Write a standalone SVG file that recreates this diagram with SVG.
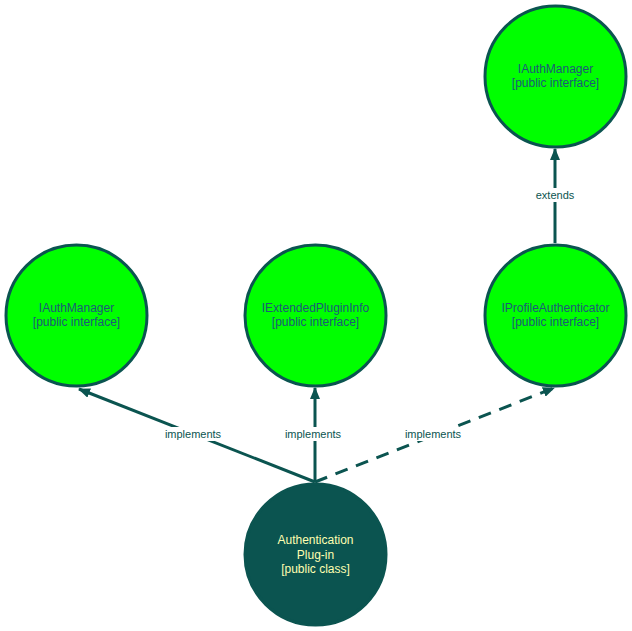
<svg xmlns="http://www.w3.org/2000/svg" width="632" height="631" viewBox="0 0 632 631">
<style>
.iface{fill:#00ff00;stroke:#0b5450;stroke-width:3}
.cls{fill:#0b5450;stroke:#0b5450;stroke-width:3}
.t{font-family:"Liberation Sans",Arial,sans-serif;font-size:12px;text-anchor:middle;fill:#1d5a78}
.tc{font-family:"Liberation Sans",Arial,sans-serif;font-size:12px;text-anchor:middle;fill:#ffffb0}
.edge{stroke:#0b5450;stroke-width:3;fill:none}
.lbl{font-family:"Liberation Sans",Arial,sans-serif;font-size:11px;text-anchor:middle;fill:#0b5450}
.bg{fill:#ffffff}
</style>
<defs>
<marker id="arr" markerUnits="userSpaceOnUse" markerWidth="12" markerHeight="10" viewBox="0 0 12 10" refX="11" refY="5" orient="auto">
<path d="M0,0 L12,5 L0,10 z" fill="#0b5450"/>
</marker>
</defs>
<rect width="632" height="631" fill="#ffffff"/>
<g id="connectors">
<line class="edge" x1="315" y1="482" x2="79" y2="389" marker-end="url(#arr)"/>
<line class="edge" x1="315" y1="482" x2="315" y2="388" marker-end="url(#arr)"/>
<line class="edge" x1="315" y1="482" x2="554" y2="388" stroke-dasharray="13,9" marker-end="url(#arr)"/>
<line class="edge" x1="555" y1="243" x2="555" y2="149" marker-end="url(#arr)"/>
<rect class="bg" x="165" y="427" width="56" height="14"/>
<text class="lbl" x="193" y="438">implements</text>
<rect class="bg" x="285" y="427" width="56" height="14"/>
<text class="lbl" x="313" y="438">implements</text>
<rect class="bg" x="404" y="427" width="58" height="14"/>
<text class="lbl" x="433" y="438">implements</text>
<rect class="bg" x="533" y="188" width="44" height="14"/>
<text class="lbl" x="555" y="199">extends</text>
</g>
<g id="node-iauth-top">
<circle class="iface" cx="555.5" cy="76.5" r="70.5"/>
<text class="t" x="555.5" y="73">IAuthManager</text>
<text class="t" x="555.5" y="87">[public interface]</text>
</g>
<g id="node-iauth-left">
<circle class="iface" cx="76.5" cy="315.5" r="70.5"/>
<text class="t" x="76.5" y="312">IAuthManager</text>
<text class="t" x="76.5" y="326">[public interface]</text>
</g>
<g id="node-iextended">
<circle class="iface" cx="315.5" cy="315.5" r="70.5"/>
<text class="t" x="315.5" y="312">IExtendedPluginInfo</text>
<text class="t" x="315.5" y="326">[public interface]</text>
</g>
<g id="node-iprofile">
<circle class="iface" cx="555.5" cy="315.5" r="70.5"/>
<text class="t" x="555.5" y="312">IProfileAuthenticator</text>
<text class="t" x="555.5" y="326">[public interface]</text>
</g>
<g id="node-plugin">
<circle class="cls" cx="315.5" cy="554.5" r="70.5"/>
<text class="tc" x="315.5" y="544">Authentication</text>
<text class="tc" x="315.5" y="558.5">Plug-in</text>
<text class="tc" x="315.5" y="573">[public class]</text>
</g>
</svg>
